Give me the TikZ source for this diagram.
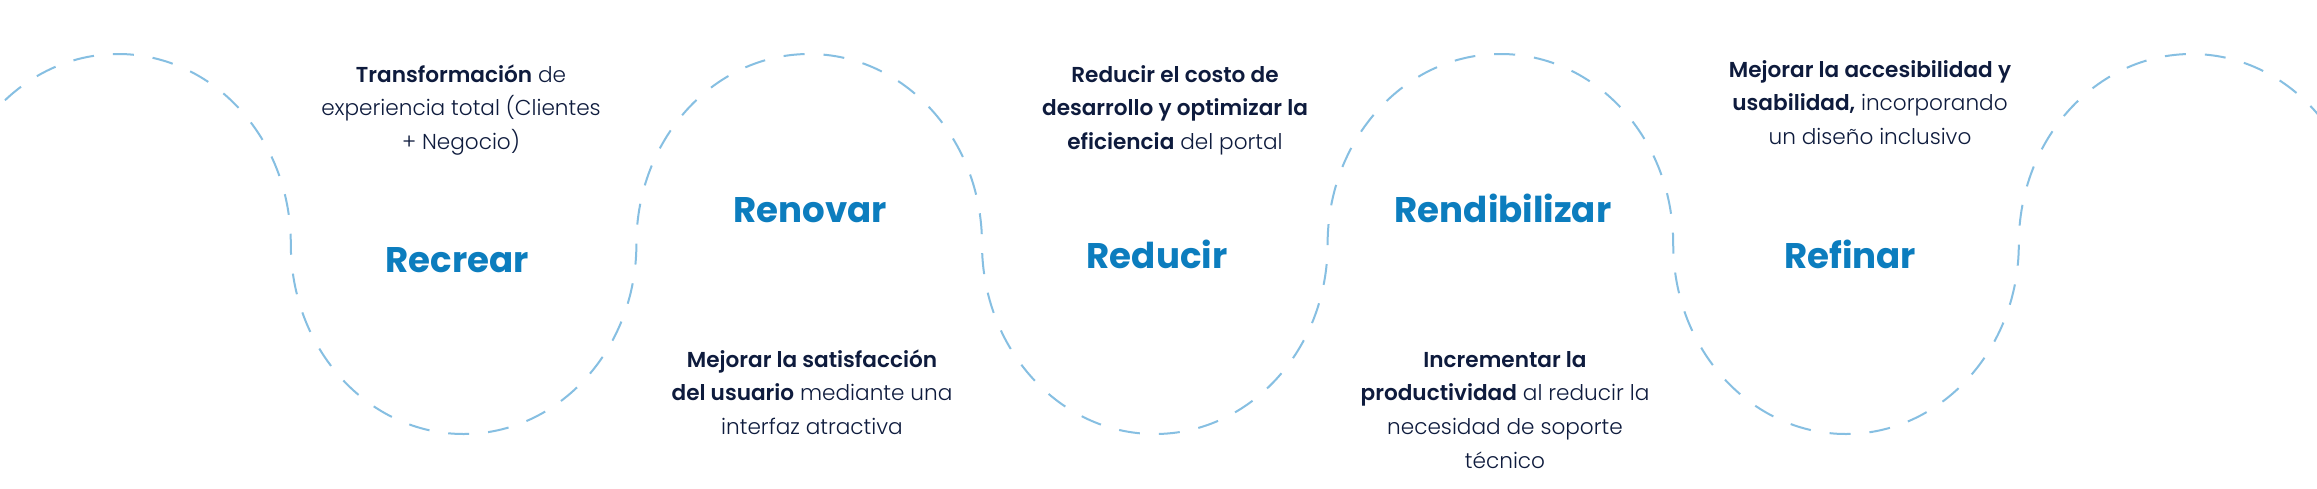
\documentclass[tikz,border=0pt]{standalone}
\usepackage{fontspec}
\setmainfont{Poppins}[UprightFont={* Light},BoldFont={* SemiBold}]
\newfontfamily\titlefont{Poppins}[UprightFont={* Bold}]
\definecolor{txt}{HTML}{0E1B3D}
\definecolor{ttl}{HTML}{0C7DBE}
\definecolor{wavec}{HTML}{86BFE2}
\newcommand{\lines}[1]{\begin{tabular}[t]{@{}c@{}}#1\end{tabular}}
\tikzset{
  body/.style={font=\fontsize{21.6}{33.7}\selectfont, text=txt, anchor=base, inner sep=0pt},
  ttlnode/.style={font=\titlefont\fontsize{35.6}{40}\selectfont, text=ttl, anchor=base, inner sep=0pt},
  wave/.style={draw=wavec, line width=2pt, dash pattern=on 21pt off 19pt},
}
\begin{document}
\begin{tikzpicture}[x=1pt,y=-1pt]
\useasboundingbox (0,0) rectangle (2317,488);
\fill[white] (0,0) rectangle (2317,488);
\begin{scope}
\clip (0,0) rectangle (2317,488);
\coordinate (w0) at (-54.8,244);
\draw[wave] (w0)
  arc[start angle=180,end angle=360,x radius=172.8,y radius=190]
  arc[start angle=180,end angle=0,x radius=172.8,y radius=190]
  arc[start angle=180,end angle=360,x radius=172.8,y radius=190]
  arc[start angle=180,end angle=0,x radius=172.8,y radius=190]
  arc[start angle=180,end angle=360,x radius=172.8,y radius=190]
  arc[start angle=180,end angle=0,x radius=172.8,y radius=190]
  arc[start angle=180,end angle=360,x radius=172.8,y radius=190];
\end{scope}
% titles
\node[ttlnode] (recrear) at (457,272) {Recrear};
\node[ttlnode] (renovar) at (810,222) {Renovar};
\node[ttlnode] (reducir) at (1157,268) {Reducir};
\node[ttlnode] (rendib) at (1503,222) {Rendibilizar};
\node[ttlnode] (refinar) at (1850,268) {Refinar};
% texts
\node[body] (t1) at (461,82) {\lines{\textbf{Transformación} de\\experiencia total (Clientes\\+ Negocio)}};
\node[body] (t3) at (1175,82) {\lines{\textbf{Reducir el costo de}\\\textbf{desarrollo y optimizar la}\\\textbf{eficiencia} del portal}};
\node[body] (t5) at (1870,77) {\lines{\textbf{Mejorar la accesibilidad y}\\\textbf{usabilidad,} incorporando\\un diseño inclusivo}};
\node[body] (b2) at (812,367) {\lines{\textbf{Mejorar la satisfacción}\\\textbf{del usuario} mediante una\\interfaz atractiva}};
\node[body] (b4) at (1505,367) {\lines{\textbf{Incrementar la}\\\textbf{productividad} al reducir la\\necesidad de soporte\\técnico}};
\end{tikzpicture}
\end{document}
